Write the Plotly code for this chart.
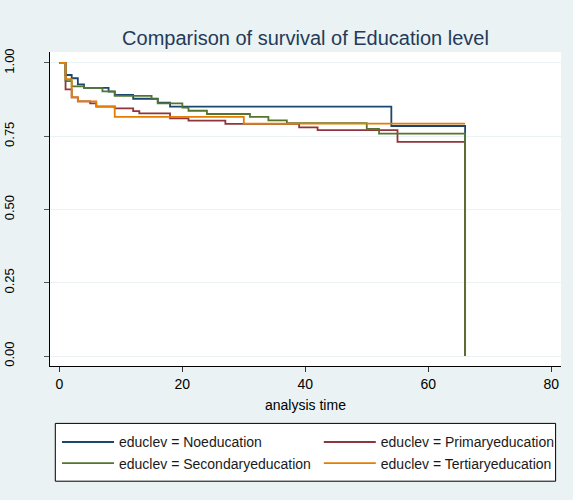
import plotly.graph_objects as go

# ---- data ----
t_noedu = [0, 1, 2, 3, 4, 8, 9, 12, 16, 18, 54, 66]
s_noedu = [1.0, 0.959, 0.948, 0.927, 0.915, 0.902, 0.891, 0.878, 0.865, 0.851, 0.785, 0.0]

t_primary = [0, 1, 2, 3, 5, 6, 9, 12, 13, 18, 21, 27, 39, 42, 55, 66]
s_primary = [1.0, 0.910, 0.883, 0.869, 0.862, 0.851, 0.845, 0.836, 0.828, 0.811, 0.803,
             0.792, 0.780, 0.771, 0.731, 0.0]

t_secondary = [0, 1, 2, 4, 7, 9, 15, 16, 20, 21, 24, 31, 34, 37, 50, 52, 66]
s_secondary = [1.0, 0.938, 0.920, 0.915, 0.903, 0.888, 0.877, 0.862, 0.848, 0.837, 0.826,
               0.816, 0.804, 0.795, 0.775, 0.759, 0.0]

t_tertiary = [0, 1, 2, 3, 6, 9, 30, 66]
s_tertiary = [1.0, 0.945, 0.883, 0.869, 0.852, 0.816, 0.793, 0.793]

names = ["educlev = Noeducation", "educlev = Primaryeducation",
         "educlev = Secondaryeducation", "educlev = Tertiaryeducation"]
x_ticks = [0, 20, 40, 60, 80]
y_ticks = [0, 0.25, 0.5, 0.75, 1.0]
y_ticktext = ["0.00", "0.25", "0.50", "0.75", "1.00"]

colors = ["#1A476F", "#90353B", "#55752F", "#E37E00"]
legend_ids = ["legend", "legend2", "legend", "legend2"]

W, H = 573, 500
L, R, T, B = 50, 12, 52, 134
pw, ph = W - L - R, H - T - B

def px_x(p):
    return (p - L) / pw

def px_y(p):
    return (H - B - p) / ph

FONT = "Liberation Sans, Arial, sans-serif"

fig = go.Figure()
series = [(t_noedu, s_noedu), (t_primary, s_primary),
          (t_secondary, s_secondary), (t_tertiary, s_tertiary)]
for (t, s), name, c, lg in zip(series, names, colors, legend_ids):
    fig.add_trace(go.Scatter(x=t, y=s, mode="lines", name=name, legend=lg,
                             line=dict(shape="hv", color=c, width=1.8)))

fig.update_layout(
    width=W, height=H,
    margin=dict(l=L, r=R, t=T, b=B, autoexpand=False),
    paper_bgcolor="#EAF2F3",
    plot_bgcolor="#FFFFFF",
    font=dict(family=FONT, size=14, color="#000000"),
    title=dict(text="Comparison of survival of Education level",
               font=dict(family=FONT, size=20, color="#243A59"),
               x=0.5, xref="paper", xanchor="center",
               y=1 - 38 / H, yref="container", yanchor="middle"),
    xaxis=dict(range=[-1.53, 81.6], tickvals=x_ticks, ticks="outside", ticklen=5,
               tickcolor="#333333", showline=True, linecolor="#000000", linewidth=1,
               showgrid=False, zeroline=False,
               tickfont=dict(family=FONT, size=14, color="#000000"), automargin=False),
    yaxis=dict(range=[-0.034, 1.0375], tickvals=y_ticks, ticktext=y_ticktext,
               tickangle=-90, ticks="outside", ticklen=5, tickcolor="#555555",
               showline=True, linecolor="#000000", linewidth=1,
               showgrid=True, gridcolor="#EAF2F3", gridwidth=1, zeroline=False,
               ticklabelstandoff=25,
               tickfont=dict(family=FONT, size=13, color="#000000"), automargin=False),
    legend=dict(x=px_x(57), y=px_y(426.4), xanchor="left", yanchor="top",
                orientation="v", bgcolor="rgba(0,0,0,0)", borderwidth=0,
                itemwidth=52, font=dict(family=FONT, size=14, color="#1a1a1a")),
    legend2=dict(x=px_x(318.8), y=px_y(426.4), xanchor="left", yanchor="top",
                 orientation="v", bgcolor="rgba(0,0,0,0)", borderwidth=0,
                 itemwidth=52, font=dict(family=FONT, size=14, color="#1a1a1a")),
    shapes=[dict(type="rect", xref="paper", yref="paper",
                 x0=px_x(55.3), x1=px_x(555.6), y0=px_y(481.2), y1=px_y(423.4),
                 fillcolor="#FFFFFF", line=dict(color="#000000", width=1), layer="below")],
    annotations=[dict(text="analysis time", xref="paper", yref="paper",
                      x=0.5, y=px_y(405), xanchor="center", yanchor="middle",
                      showarrow=False, font=dict(family=FONT, size=14, color="#000000"))],
)

fig.write_html("out.html")
